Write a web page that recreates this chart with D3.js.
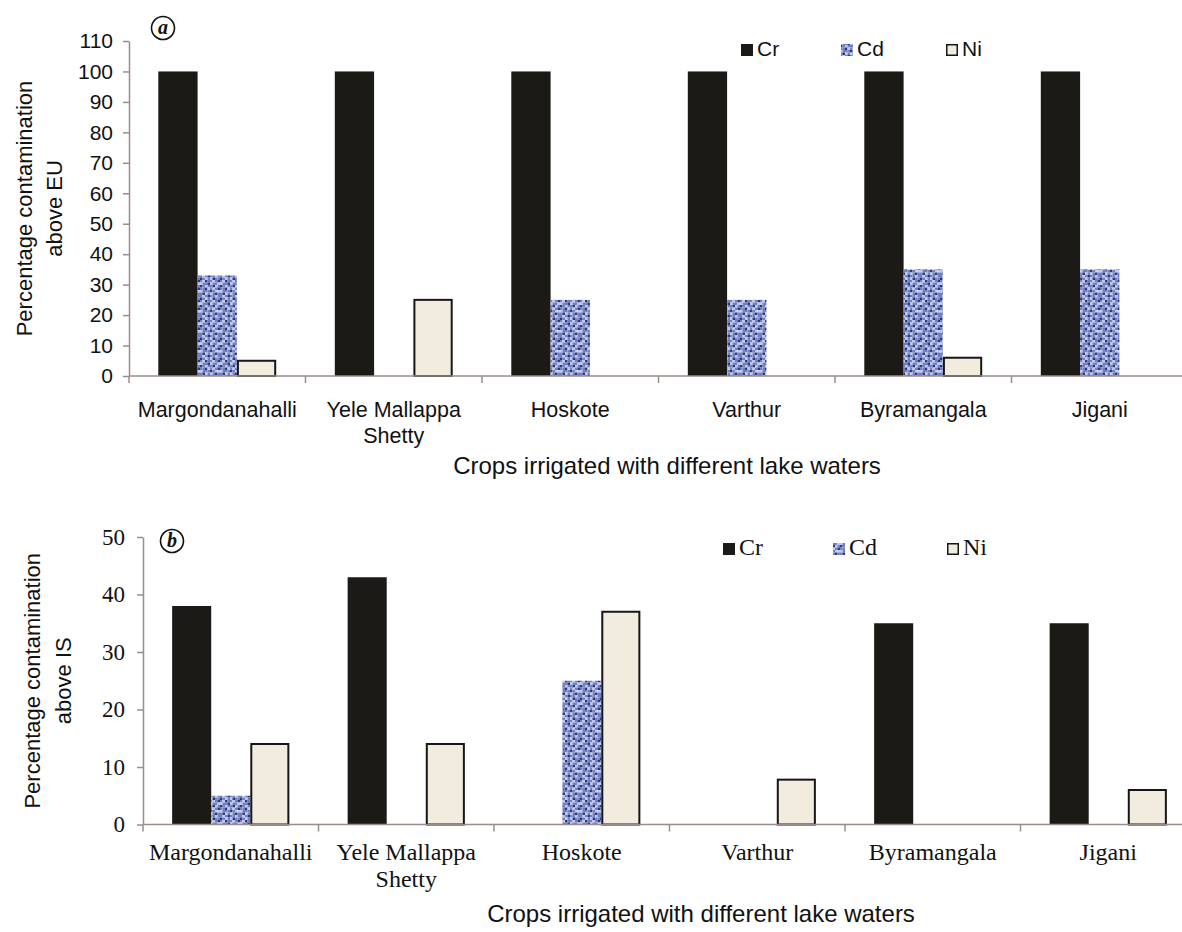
<!DOCTYPE html>
<html>
<head>
<meta charset="utf-8">
<script src="https://cdn.jsdelivr.net/npm/d3@7"></script>
<style>
  body { margin: 0; background: #fff; }
  svg { display: block; }
</style>
</head>
<body>
<div id="frame"></div>
<script>
// data
const categories = ["Margondanahalli", "Yele Mallappa|Shetty", "Hoskote", "Varthur", "Byramangala", "Jigani"];
const seriesNames = ["Cr", "Cd", "Ni"];
// panel a: above EU
const crEU = [100, 100, 100, 100, 100, 100];
const cdEU = [33, 0, 25, 25, 35, 35];
const niEU = [5, 25, 0, 0, 6, 0];
const ticksEU = [0, 10, 20, 30, 40, 50, 60, 70, 80, 90, 100, 110];
// panel b: above IS
const crIS = [38, 43, 0, 0, 35, 35];
const cdIS = [5, 0, 25, 0, 0, 0];
const niIS = [14, 14, 37, 7.8, 0, 6];
const ticksIS = [0, 10, 20, 30, 40, 50];

const W = 1182, H = 932;
const axisColor = "#9a8d88";
const sans = "Liberation Sans, Arial, sans-serif";
const serif = "Liberation Serif, Times New Roman, serif";

const svg = d3.select("#frame").append("svg")
  .attr("width", W).attr("height", H)
  .attr("viewBox", [0, 0, W, H]);

// mottled blue texture for Cd (fixed tile)
const tile = [
  "mldmmlmd",
  "lmmdlmml",
  "dmlmmdlm",
  "mmdlmlmd",
  "lmmmdmll",
  "mdlmlmdm",
  "mlmdmmlm",
  "dmlmldmm"
];
const tileColors = { d: "#2d3877", m: "#7080c2", l: "#bfcaee" };
const cell = 2.5;
const pat = svg.append("defs").append("pattern")
  .attr("id", "cdPat").attr("patternUnits", "userSpaceOnUse")
  .attr("width", cell * 8).attr("height", cell * 8);
tile.forEach((row, r) => {
  row.split("").forEach((c, k) => {
    pat.append("rect").attr("x", k * cell).attr("y", r * cell)
      .attr("width", cell).attr("height", cell).attr("fill", tileColors[c]);
  });
});

const styles = {
  Cr: { fill: "#1c1a16", stroke: "none", sw: 0 },
  Cd: { fill: "url(#cdPat)", stroke: "none", sw: 0 },
  Ni: { fill: "#f2ecdf", stroke: "#161616", sw: 2 }
};

function drawPanel(opt) {
  const g = svg.append("g");
  const x0 = d3.scaleBand().domain(categories).range([opt.left, opt.right]);
  const bw = x0.bandwidth();
  const x1 = d3.scaleBand().domain(seriesNames).range([bw * 0.166, bw * 0.834]);
  const y = d3.scaleLinear().domain([0, opt.max]).range([opt.bottom, opt.top]);

  const values = { Cr: opt.cr, Cd: opt.cd, Ni: opt.ni };
  const rows = [];
  categories.forEach((c, i) => {
    seriesNames.forEach(s => {
      if (values[s][i] > 0) rows.push({ cat: c, s: s, v: values[s][i] });
    });
  });

  g.selectAll("rect.bar").data(rows).join("rect")
    .attr("class", "bar")
    .attr("x", d => x0(d.cat) + x1(d.s) + styles[d.s].sw / 2)
    .attr("y", d => y(d.v))
    .attr("width", d => x1.bandwidth() - styles[d.s].sw)
    .attr("height", d => y(0) - y(d.v))
    .attr("fill", d => styles[d.s].fill)
    .attr("stroke", d => styles[d.s].stroke)
    .attr("stroke-width", d => styles[d.s].sw);

  // y axis
  const ya = g.append("g").attr("transform", `translate(${opt.left},0)`)
    .call(d3.axisLeft(y).tickValues(opt.ticks).tickSize(6).tickPadding(opt.tickPad).tickSizeOuter(0));
  ya.select(".domain").attr("stroke", axisColor).attr("stroke-width", 1.5);
  ya.selectAll(".tick line").attr("stroke", axisColor).attr("stroke-width", 1.5);
  ya.selectAll(".tick text").attr("fill", "#111").style("font-family", opt.font)
    .style("font-size", opt.tickSize + "px");

  // x axis baseline with boundary ticks
  g.append("line").attr("x1", opt.left).attr("x2", W)
    .attr("y1", y(0)).attr("y2", y(0))
    .attr("stroke", axisColor).attr("stroke-width", 1.5);
  const bounds = categories.map(c => x0(c)).concat([opt.right]);
  g.selectAll("line.xt").data(bounds).join("line").attr("class", "xt")
    .attr("x1", d => d).attr("x2", d => d)
    .attr("y1", y(0)).attr("y2", y(0) + 7)
    .attr("stroke", axisColor).attr("stroke-width", 1.5);

  // category labels
  categories.forEach(c => {
    const t = g.append("text").attr("text-anchor", "middle")
      .attr("x", x0(c) + bw / 2).attr("y", opt.labY)
      .attr("fill", "#111").style("font-family", opt.font)
      .style("font-size", opt.labSize + "px");
    c.split("|").forEach((line, k) => {
      t.append("tspan").attr("x", x0(c) + bw / 2).attr("dy", k ? opt.labLH : 0).text(line);
    });
  });

  // axis titles
  g.append("text").attr("text-anchor", "middle")
    .attr("x", opt.titleX).attr("y", opt.titleY)
    .attr("fill", "#111").style("font-family", sans).style("font-size", "24px")
    .text("Crops irrigated with different lake waters");
  const yt = g.append("text").attr("text-anchor", "middle")
    .attr("transform", `translate(${opt.ytX},${(opt.top + opt.bottom) / 2}) rotate(-90)`)
    .attr("fill", "#111").style("font-family", sans).style("font-size", "22px");
  yt.append("tspan").attr("x", 0).attr("dy", 0).text("Percentage contamination");
  yt.append("tspan").attr("x", 0).attr("dy", opt.ytLH).text(opt.yLine2);

  // circled panel letter
  g.append("circle").attr("cx", opt.letter[0]).attr("cy", opt.letter[1]).attr("r", 11.5)
    .attr("fill", "none").attr("stroke", "#111").attr("stroke-width", 1.6);
  g.append("text").attr("x", opt.letter[0]).attr("y", opt.letter[1] + 6)
    .attr("text-anchor", "middle").attr("fill", "#111")
    .style("font-family", serif).style("font-size", "20px")
    .style("font-weight", "bold").style("font-style", "italic")
    .text(opt.letterText);

  // legend
  seriesNames.forEach((s, i) => {
    const lx = opt.legX[i];
    const ni = s === "Ni";
    g.append("rect").attr("x", lx + (ni ? 0.75 : 0)).attr("y", opt.legY - 12 + (ni ? 0.75 : 0))
      .attr("width", ni ? 10.5 : 12).attr("height", ni ? 10.5 : 12)
      .attr("fill", styles[s].fill)
      .attr("stroke", ni ? "#161616" : "none").attr("stroke-width", 1.5);
    g.append("text").attr("x", lx + opt.legGap).attr("y", opt.legY)
      .attr("fill", "#111").style("font-family", opt.font)
      .style("font-size", opt.legSize + "px").text(s);
  });
}

drawPanel({
  left: 129, right: 1188, top: 41, bottom: 376, max: 110,
  cr: crEU, cd: cdEU, ni: niEU, ticks: ticksEU,
  font: sans, tickSize: 21, tickPad: 10, labSize: 21.5, labY: 417, labLH: 26,
  titleX: 667, titleY: 474, ytX: 32, ytLH: 30, yLine2: "above EU",
  letter: [163, 28], letterText: "a",
  legX: [741, 841, 946], legY: 56, legGap: 16, legSize: 21
});

drawPanel({
  left: 143, right: 1196, top: 537, bottom: 824.5, max: 50,
  cr: crIS, cd: cdIS, ni: niIS, ticks: ticksIS,
  font: serif, tickSize: 23, tickPad: 12, labSize: 24, labY: 860, labLH: 27,
  titleX: 701, titleY: 922, ytX: 40, ytLH: 31, yLine2: "above IS",
  letter: [172, 541], letterText: "b",
  legX: [723, 833, 947], legY: 555, legGap: 16, legSize: 24
});
</script>
</body>
</html>
